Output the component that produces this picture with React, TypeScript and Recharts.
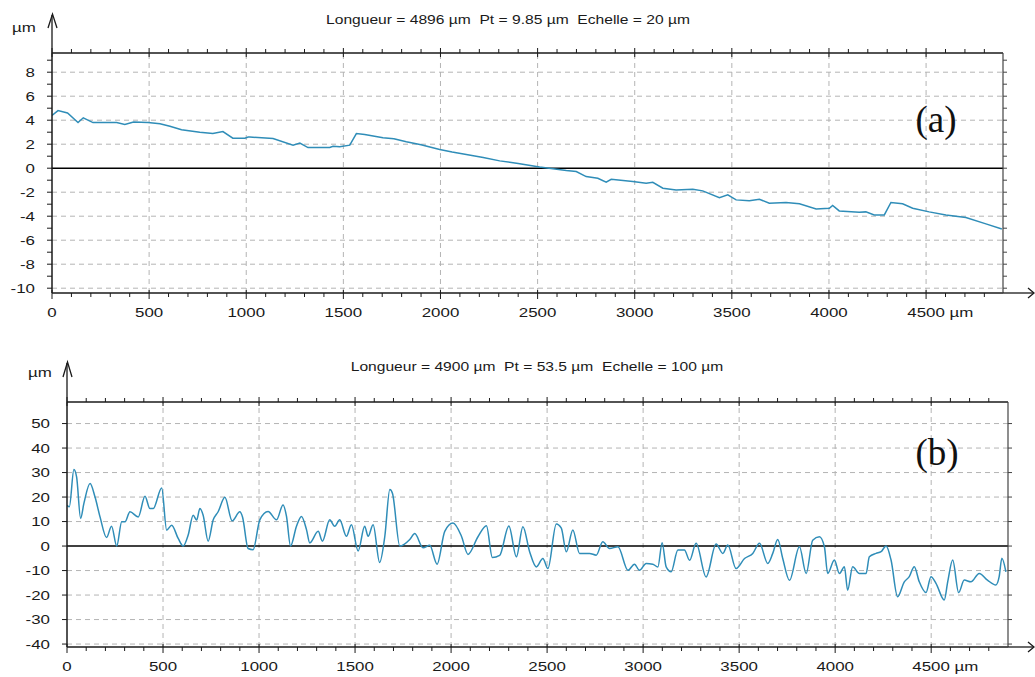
import { LineChart, Line, XAxis, YAxis, ReferenceLine } from 'recharts'

// ─── Data ─────────────────────────────────────────────────────────────────────

// (a) length 4896 µm, scale 20 µm
const PROFILE_A_X = [
  0, 31, 80, 134, 161, 211, 333, 375, 420, 494, 556, 607, 667, 761, 828, 880, 931, 993,
  1010, 1018, 1138, 1241, 1276, 1318, 1430, 1447, 1481, 1533, 1567, 1610, 1704, 1760,
  1824, 1900, 1996, 2060, 2133, 2220, 2305, 2400, 2510, 2648, 2699, 2750, 2810, 2853,
  2879, 2990, 3059, 3093, 3145, 3213, 3299, 3350, 3436, 3479, 3522, 3590, 3642, 3693,
  3779, 3848, 3934, 4002, 4019, 4053, 4156, 4190, 4233, 4285, 4319, 4379, 4431, 4516,
  4602, 4705, 4808, 4890,
]
const PROFILE_A_Z = [
  4.4, 4.8, 4.6, 3.8, 4.2, 3.8, 3.8, 3.65, 3.85, 3.8, 3.7, 3.5, 3.2, 3.0, 2.9, 3.05, 2.5, 2.5,
  2.6, 2.6, 2.47, 1.92, 2.1, 1.72, 1.72, 1.83, 1.78, 1.92, 2.89, 2.8, 2.53, 2.45,
  2.2, 1.95, 1.56, 1.35, 1.14, 0.9, 0.61, 0.4, 0.1, -0.2, -0.28, -0.7, -0.84, -1.17,
  -0.92, -1.11, -1.25, -1.17, -1.67, -1.81, -1.75, -1.89, -2.45, -2.22, -2.64, -2.72, -2.59, -2.92,
  -2.86, -2.97, -3.39, -3.34, -3.1, -3.56, -3.67, -3.64, -3.89, -3.89, -2.86, -2.97, -3.33, -3.64,
  -3.9, -4.11, -4.64, -5.06,
]

// (b) length 4900 µm, scale 100 µm
const PROFILE_B_X = [
  0, 12, 36, 50, 71, 88, 120, 146, 172, 206, 232, 259, 285, 302, 328, 371, 406, 432, 449,
  493, 519, 545, 579, 605, 631, 657, 675, 692, 709, 735, 761, 787, 822, 860, 900, 914,
  943, 969, 1004, 1047, 1091, 1125, 1143, 1164, 1195, 1221, 1247, 1264, 1308, 1330, 1368,
  1394, 1420, 1455, 1481, 1516, 1550, 1568, 1594, 1628, 1655, 1681, 1695, 1733, 1785,
  1811, 1854, 1889, 1927, 1967, 2010, 2054, 2088, 2140, 2184, 2215, 2253, 2301, 2340,
  2374, 2409, 2444, 2478, 2504, 2548, 2574, 2600, 2634, 2669, 2721, 2756, 2790, 2825,
  2869, 2921, 2955, 2981, 3016, 3050, 3077, 3099, 3120, 3146, 3181, 3215, 3242, 3276,
  3328, 3380, 3415, 3441, 3484, 3528, 3571, 3606, 3649, 3675, 3701, 3727, 3762, 3814,
  3849, 3883, 3918, 3944, 3961, 3996, 4022, 4048, 4065, 4091, 4126, 4161, 4178, 4213,
  4239, 4265, 4291, 4325, 4360, 4386, 4412, 4438, 4473, 4499, 4525, 4568, 4586, 4612,
  4643, 4672, 4707, 4750, 4793, 4837, 4854, 4868, 4889,
]
const PROFILE_B_Z = [
  16.7, 16, 31.2, 28.2, 11.3, 17.4, 25.5, 20, 11.9, 3.5, 8.1, 0, 9.9, 9.9, 14, 11.9, 20.3, 15.3, 15.3,
  23.7, 6.5, 8.5, 3.1, 0, 4.5, 12.6, 10.6, 15.3, 12.6, 2, 10.6, 14, 19.9, 10.3, 14, 11.9,
  -1, -1.5, 10.7, 14.1, 10.7, 16.8, 12.1, 0, 8.1, 12.1, 6.7, 1.3, 6, 2, 10.7,
  8.1, 10.7, 4, 8.7, -2, 8.1, 4, 8.7, -6.7, 4, 23.1, 21.5, 0, 2.7,
  5.1, -0.7, 0.3, -7.4, 6, 9.4, 4, -3.4, 3.8, 8.3, -4.7, -3.8, 8.2, -4.4,
  7.9, -2.3, -8.5, -5.1, -9.2, 9, 7.3, -2.3, 6.6, -3, -3, -3.7, 1.8, -1,
  -0.3, -9.9, -7.4, -9.9, -7.1, -7.4, -8.5, 1.4, -8.5, -10.5, -1.6, -1.6, -5.8, 1.1,
  -12.6, 0.8, -3, 0.4, -9.2, -5.1, -3, 1.1, -7.1, -3, 2.7, -5.1, -14, -0.3,
  -11.2, 2.4, 3.8, -0.3, -11.2, -5.7, -11.2, -8.4, -18, -8.4, -11.2, -11.2, -4.4, -3,
  -2.3, 0, -5.7, -20.7, -14.6, -12.5, -8.4, -14.6, -19, -12.5, -15.2, -22, -14.6, -5.7,
  -19, -13.9, -14.6, -11.2, -13.9, -15.9, -12.5, -5, -10.5,
]

// ─── Ticks / grid ─────────────────────────────────────────────────────────────

const X_TICKS = Array.from({ length: 49 }, (_, i) => i * 100)
const X_LABELS = [0, 500, 1000, 1500, 2000, 2500, 3000, 3500, 4000, 4500]
const X_GRID = [500, 1000, 1500, 2000, 2500, 3000, 3500, 4000, 4500]

const A_Y_TICKS = [-10, -9, -8, -7, -6, -5, -4, -3, -2, -1, 0, 1, 2, 3, 4, 5, 6, 7, 8, 9]
const A_Y_LABELS = [-10, -8, -6, -4, -2, 0, 2, 4, 6, 8]
const A_Y_GRID = [-10, -8, -6, -4, -2, 2, 4, 6, 8]

const B_Y_TICKS = [-40, -30, -20, -10, 0, 10, 20, 30, 40, 50]
const B_Y_LABELS = [-40, -30, -20, -10, 0, 10, 20, 30, 40, 50]
const B_Y_GRID = [-40, -30, -20, -10, 10, 20, 30, 40, 50]

const INK = '#1a1a1a'
const TRACE = '#2f8db8'
const GRID = '#b4b4b4'
const FONT = '"Liberation Sans", Arial, sans-serif'
const STRETCH = 1.3

// ─── Custom ticks ─────────────────────────────────────────────────────────────

const BottomTick = (props: any) => {
  const { x, y, payload } = props
  const v = payload.value
  const major = X_LABELS.includes(v)
  const last = v === 4500
  return (
    <g>
      <line x1={x} y1={major ? y - 3 : y} x2={x} y2={y + (major ? 6 : 4)} stroke={INK} />
      {major && (
        <text
          transform={`translate(${x},${y + 19}) scale(${STRETCH},1)`}
          textAnchor={last ? 'start' : 'middle'}
          dy="0.35em"
          fontSize={13}
          fontFamily={FONT}
          fill={INK}
        >
          <tspan x={last ? -14.5 : 0}>{last ? '4500 µm' : v}</tspan>
        </text>
      )}
    </g>
  )
}

const TopTick = (props: any) => {
  const { x, y, payload } = props
  const major = X_LABELS.includes(payload.value)
  return <line x1={x} y1={y - (major ? 5 : 4)} x2={x} y2={major ? y + 4 : y} stroke={INK} />
}

const LeftTick = (props: any) => {
  const { x, y, payload, labels } = props
  const v = payload.value
  return (
    <g>
      <line x1={x - 5} y1={y} x2={x} y2={y} stroke={INK} />
      {labels.includes(v) && (
        <text
          transform={`translate(${x - 17},${y}) scale(${STRETCH},1)`}
          textAnchor="end"
          dy="0.35em"
          fontSize={13}
          fontFamily={FONT}
          fill={INK}
        >
          {v}
        </text>
      )}
    </g>
  )
}

const RightTick = (props: any) => {
  const { x, y } = props
  return <line x1={x} y1={y} x2={x + 4} y2={y} stroke="#444" />
}

// ─── One profile panel ────────────────────────────────────────────────────────

function Profile({ top, height, margin, xMax, yDomain, yTicks, yLabels, yGrid, xs, zs, curve }: any) {
  const data = xs.map((x: number, i: number) => ({ x, z: zs[i] }))
  return (
    <div style={{ position: 'absolute', left: 0, top }}>
      <LineChart width={1035} height={height} data={data} margin={margin}>
        <XAxis
          xAxisId="top"
          orientation="top"
          type="number"
          dataKey="x"
          domain={[0, xMax]}
          allowDataOverflow
          ticks={X_TICKS}
          interval={0}
          height={8}
          tickSize={0}
          tickMargin={0}
          tickLine={false}
          axisLine={{ stroke: INK, strokeWidth: 1.5 }}
          tick={<TopTick />}
        />
        <XAxis
          type="number"
          dataKey="x"
          domain={[0, xMax]}
          allowDataOverflow
          ticks={X_TICKS}
          interval={0}
          height={30}
          tickSize={0}
          tickMargin={0}
          tickLine={false}
          axisLine={{ stroke: INK, strokeWidth: 1.5 }}
          tick={<BottomTick />}
        />
        <YAxis
          type="number"
          domain={yDomain}
          allowDataOverflow
          ticks={yTicks}
          interval={0}
          width={40}
          tickSize={0}
          tickMargin={0}
          tickLine={false}
          axisLine={{ stroke: INK, strokeWidth: 1.5 }}
          tick={<LeftTick labels={yLabels} />}
        />
        <YAxis
          yAxisId="right"
          orientation="right"
          type="number"
          domain={yDomain}
          allowDataOverflow
          ticks={yTicks}
          interval={0}
          width={8}
          tickSize={0}
          tickMargin={0}
          tickLine={false}
          axisLine={{ stroke: '#444', strokeWidth: 1.2 }}
          tick={<RightTick />}
        />
        {X_GRID.map((v) => (
          <ReferenceLine key={'x' + v} x={v} stroke={GRID} strokeDasharray="5 4" />
        ))}
        {yGrid.map((v: number) => (
          <ReferenceLine key={'y' + v} y={v} stroke={GRID} strokeDasharray="5 4" />
        ))}
        <ReferenceLine y={0} stroke="#000" strokeWidth={1.6} />
        <Line
          type={curve}
          dataKey="z"
          stroke={TRACE}
          strokeWidth={1.5}
          dot={false}
          isAnimationActive={false}
        />
      </LineChart>
    </div>
  )
}

// ─── Page ─────────────────────────────────────────────────────────────────────

const label = (left: number, top: number, text: string, extra: any = {}) => (
  <div
    style={{
      position: 'absolute',
      left,
      top,
      transform: `translate(-50%, -50%) scaleX(${STRETCH})`,
      whiteSpace: 'pre',
      fontFamily: FONT,
      fontSize: 12,
      color: INK,
      lineHeight: 1,
      ...extra,
    }}
  >
    {text}
  </div>
)

export default function App() {
  return (
    <div
      style={{
        position: 'absolute',
        left: 0,
        top: 0,
        width: 1035,
        height: 677,
        overflow: 'hidden',
        background: '#fff',
      }}
    >
      <Profile
        top={0}
        height={335}
        margin={{ top: 45, right: 24, bottom: 12, left: 12 }}
        xMax={4896}
        yDomain={[-10.4, 9.6]}
        yTicks={A_Y_TICKS}
        yLabels={A_Y_LABELS}
        yGrid={A_Y_GRID}
        xs={PROFILE_A_X}
        zs={PROFILE_A_Z}
        curve="linear"
      />
      <Profile
        top={335}
        height={342}
        margin={{ top: 59, right: 19, bottom: 0, left: 27 }}
        xMax={4900}
        yDomain={[-41.2, 58.8]}
        yTicks={B_Y_TICKS}
        yLabels={B_Y_LABELS}
        yGrid={B_Y_GRID}
        xs={PROFILE_B_X}
        zs={PROFILE_B_Z}
        curve="monotone"
      />

      {/* axis arrows */}
      <svg
        width={1035}
        height={677}
        style={{ position: 'absolute', left: 0, top: 0, pointerEvents: 'none' }}
      >
        <g stroke={INK} strokeWidth={1.3} fill="none">
          <line x1={52} y1={53} x2={52} y2={15} />
          <polyline points="48,28 52.5,14 57,28" />
          <line x1={1003} y1={293} x2={1033} y2={293} />
          <polyline points="1028,288 1034,293 1028,298" />
          <line x1={67} y1={402} x2={67} y2={363} />
          <polyline points="63,377 67.5,362 72,377" />
          <line x1={1008} y1={647} x2={1033} y2={647} />
          <polyline points="1028,642 1034,647 1028,652" />
        </g>
      </svg>

      {label(24, 27, 'µm', { fontSize: 13 })}
      {label(508, 20, 'Longueur = 4896 µm  Pt = 9.85 µm  Echelle = 20 µm')}
      {label(40, 372, 'µm', { fontSize: 13 })}
      {label(537, 367, 'Longueur = 4900 µm  Pt = 53.5 µm  Echelle = 100 µm')}

      {label(936, 119, '(a)', { fontFamily: '"Liberation Serif", serif', fontSize: 37, transform: 'translate(-50%, -50%)', color: '#111' })}
      {label(937, 452, '(b)', { fontFamily: '"Liberation Serif", serif', fontSize: 37, transform: 'translate(-50%, -50%)', color: '#111' })}
    </div>
  )
}
